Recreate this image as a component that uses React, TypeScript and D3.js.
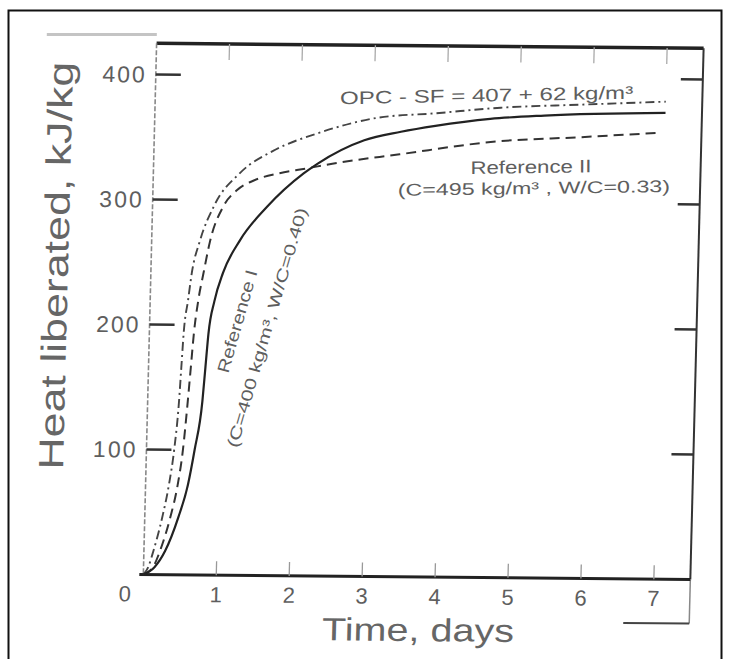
import React from 'react';
import * as d3 from 'd3';

// ---- data ----
const xTicks = [0, 1, 2, 3, 4, 5, 6, 7];
const xTickLabels = ['0', '1', '2', '3', '4', '5', '6', '7'];
const yTicks = [100, 200, 300, 400];
const yTickLabels = ['100', '200', '300', '400'];

// OPC - SF (dash-dot)
const opcSfDays = [0, 0.065, 0.13, 0.24, 0.32, 0.38, 0.43, 0.45, 0.47, 0.52, 0.56, 0.66, 0.84, 1.19, 1.64, 2.23, 3.05, 3.84, 4.74, 5.84, 7.0];
const opcSfHeat = [0, 6, 19, 46, 72, 100, 139, 166, 193, 220, 241, 267, 295, 322, 340, 354, 367, 371, 376, 379, 382];

// Reference I (solid)
const ref1Days = [0, 0.15, 0.29, 0.46, 0.58, 0.66, 0.75, 0.78, 0.81, 0.88, 0.99, 1.21, 1.57, 2.06, 2.25, 2.88, 3.38, 3.85, 4.6, 5.34, 7.0];
const ref1Heat = [0, 6, 19, 46, 72, 100, 139, 166, 193, 219, 242, 268, 295, 322, 330, 349, 356, 361, 367, 370, 373];

// Reference II (dashed)
const ref2Days = [0, 0.13, 0.22, 0.35, 0.44, 0.5, 0.55, 0.58, 0.61, 0.66, 0.72, 0.8, 0.97, 1.15, 1.38, 1.73, 2.1, 2.45, 3.37, 4.7, 5.85, 6.9];
const ref2Heat = [0, 6, 19, 46, 72, 100, 139, 166, 193, 220, 241, 267, 295, 308, 316, 322, 326, 330, 338, 349, 353, 357];

const FONT = 'Liberation Sans, Arial, Helvetica, sans-serif';
const TXT = '#5e5e5e';
const TITLE = '#666';

export default function App() {
  const x = d3.scaleLinear().domain([0, 7.5]).range([150, 697]);
  const y = d3.scaleLinear().domain([0, 425]).range([577, 45.75]);

  const line = d3
    .line<[number, number]>()
    .x((d) => x(d[0]))
    .y((d) => y(d[1]))
    .curve(d3.curveMonotoneX);

  const zip = (a: number[], b: number[]) => a.map((v, i) => [v, b[i]] as [number, number]);

  const x0 = x(0);
  const x1 = x(7.5);
  const yb = y(0);
  const yt = y(425);

  return (
    <svg
      width={729}
      height={659}
      style={{ position: 'absolute', left: 0, top: 0, background: '#fff' }}
      fontFamily={FONT}
    >
      <rect x={0} y={0} width={729} height={659} fill="#fff" />
      {/* outer frame */}
      <rect x={8.5} y={10.5} width={713} height={700} fill="none" stroke="#111" strokeWidth={2} />

      <g transform="matrix(1,0.009,-0.025,1,7.75,-3.78)">
        {/* faint scan line top-left */}
        <line x1={40} x2={150} y1={38} y2={37} stroke="#c4c4c4" strokeWidth={3} />

        {/* top thick line */}
        <line x1={x0} x2={x1} y1={yt} y2={yt} stroke="#222" strokeWidth={3.5} />
        {/* right axis */}
        <line x1={x1} x2={x1} y1={yt} y2={yb} stroke="#333" strokeWidth={2} />
        <line x1={x1} x2={x1} y1={yb} y2={621} stroke="#888" strokeWidth={1.5} />
        <line x1={631} x2={x1} y1={621} y2={621} stroke="#444" strokeWidth={2} />
        {/* left axis (faint) */}
        <line x1={x0} x2={x0} y1={yt} y2={yb} stroke="#888" strokeWidth={1.6} strokeDasharray="5 2" />
        {/* bottom axis */}
        <line x1={x0 - 4} x2={x1} y1={yb} y2={yb} stroke="#222" strokeWidth={3} />

        {/* y ticks left & right */}
        {yTicks.map((t) => (
          <g key={'yt' + t}>
            <line x1={x0} x2={x0 + 25} y1={y(t)} y2={y(t)} stroke="#333" strokeWidth={2.5} />
            <line x1={x1 - 22} x2={x1} y1={y(t)} y2={y(t)} stroke="#333" strokeWidth={2.5} />
          </g>
        ))}
        {/* y tick labels */}
        {yTicks.map((t, i) => (
          <text
            key={'yl' + t}
            x={x0 - 9}
            y={y(t)}
            textAnchor="end"
            dominantBaseline="central"
            fontSize={23}
            letterSpacing={2}
            fill={TXT}
          >
            {yTickLabels[i]}
          </text>
        ))}

        {/* x ticks bottom (faint, upward) and top (faint, downward) */}
        {xTicks.filter((t) => t > 0).map((t) => (
          <g key={'xt' + t}>
            <line x1={x(t)} x2={x(t)} y1={yb} y2={yb - 14} stroke="#999" strokeWidth={1.3} />
            <line x1={x(t)} x2={x(t)} y1={yt} y2={yt + 16} stroke="#aaa" strokeWidth={1.3} />
          </g>
        ))}
        {/* x tick labels */}
        {xTicks.map((t, i) => (
          <text
            key={'xl' + t}
            x={x(t) + (t === 0 ? -18 : 0)}
            y={604}
            textAnchor="middle"
            fontSize={22}
            fill={TXT}
          >
            {xTickLabels[i]}
          </text>
        ))}

        {/* curves */}
        <path d={line(zip(opcSfDays, opcSfHeat)) || ''} fill="none" stroke="#444" strokeWidth={1.9} strokeDasharray="9 4 2 4" />
        <path d={line(zip(ref2Days, ref2Heat)) || ''} fill="none" stroke="#333" strokeWidth={2} strokeDasharray="10 6" />
        <path d={line(zip(ref1Days, ref1Heat)) || ''} fill="none" stroke="#222" strokeWidth={2.2} />

        {/* annotations */}
        <text x={335} y={105} fontSize={18} fill={TXT} textLength={293} lengthAdjust="spacingAndGlyphs" transform="rotate(-1.6,335,105)">
          OPC - SF = 407 + 62 kg/m³
        </text>
        <text x={467} y={173.5} fontSize={18} fill={TXT} textLength={121} lengthAdjust="spacingAndGlyphs" transform="rotate(-1.3,467,173.5)">
          Reference II
        </text>
        <text x={395} y={196} fontSize={17} fill={TXT} textLength={272} lengthAdjust="spacingAndGlyphs" transform="rotate(-1.3,395,196)">
          (C=495 kg/m³ , W/C=0.33)
        </text>
        <text
          x={0}
          y={0}
          fontSize={17}
          fill={TXT}
          textAnchor="middle"
          dominantBaseline="central"
          textLength={106}
          lengthAdjust="spacingAndGlyphs"
          transform="translate(238,323) rotate(-75.3)"
        >
          Reference I
        </text>
        <text
          x={0}
          y={0}
          fontSize={16}
          fill={TXT}
          textAnchor="middle"
          dominantBaseline="central"
          textLength={248}
          lengthAdjust="spacingAndGlyphs"
          transform="translate(267.5,329) rotate(-75)"
        >
          (C=400 kg/m³, W/C=0.40)
        </text>

        {/* axis titles */}
        <text
          x={0}
          y={0}
          fontSize={35}
          fill={TITLE}
          textAnchor="middle"
          textLength={408}
          lengthAdjust="spacingAndGlyphs"
          transform="translate(67,269) rotate(-90)"
        >
          Heat liberated, kJ/kg
        </text>
        <text x={426} y={641} fontSize={32} fill={TITLE} textAnchor="middle" textLength={192} lengthAdjust="spacingAndGlyphs">
          Time, days
        </text>
      </g>
    </svg>
  );
}
